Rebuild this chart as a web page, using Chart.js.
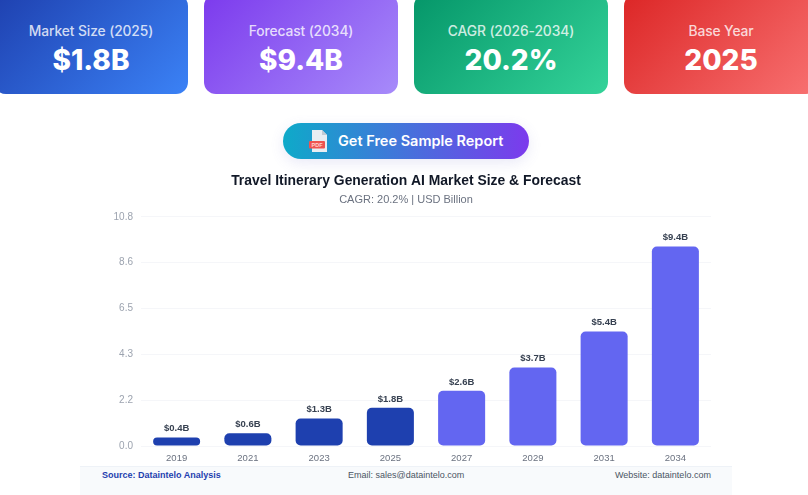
<!DOCTYPE html>
<html lang="en">
<head>
<meta charset="utf-8">
<title>Travel Itinerary Generation AI Market Size &amp; Forecast</title>
<script src="https://cdn.jsdelivr.net/npm/chart.js@4/dist/chart.umd.min.js"></script>
<style>
  html, body { margin: 0; padding: 0; background: #fff; overflow: hidden; }
  body { width: 808px; height: 495px; position: relative; font-family: "Liberation Sans", Arial, sans-serif; }
  .card { position: absolute; top: -6px; width: 194px; height: 100px; border-radius: 12px; color: #fff; text-align: center; font-family: Inter, "Open Sans", sans-serif; }
  .card .lab { position: absolute; left: 0; right: 0; top: 28px; font-size: 13.8px; font-weight: 500; line-height: 18px; letter-spacing: -0.1px; color: rgba(255,255,255,.8); }
  .card .val { position: absolute; left: 0; right: 0; top: 48px; font-size: 28px; font-weight: 800; line-height: 36px; }
  .c1 { left: -6px;  background: linear-gradient(135deg, #1e40af, #3b82f6); }
  .c2 { left: 204px; background: linear-gradient(135deg, #7c3aed, #a78bfa); }
  .c3 { left: 414px; background: linear-gradient(135deg, #059669, #34d399); }
  .c4 { left: 624px; background: linear-gradient(135deg, #dc2626, #f87171); }
  .btn { position: absolute; left: 283px; top: 123px; width: 246px; height: 36px; border-radius: 18px; background: linear-gradient(90deg, #0eaac9, #7c3aed); box-shadow: 0 4px 14px rgba(100,100,200,.14); color: #fff; font-family: Inter, "Open Sans", sans-serif; font-weight: 600; font-size: 14.5px; line-height: 36px; }
  .btn svg { position: absolute; left: 26px; top: 7px; }
  .btn span { position: absolute; left: 55px; white-space: nowrap; }
  .foot { position: absolute; left: 80px; top: 466px; width: 652px; height: 29px; background: #f8fafc; border-top: 1px solid #eef2f7; box-sizing: border-box; font-size: 9px; color: #4b5563; }
  .foot div { position: absolute; top: 2px; line-height: 12px; white-space: nowrap; }
  .foot .src { left: 22px; color: #1e40af; font-weight: 700; }
  .foot .mail { left: 268px; }
  .foot .web { left: 535px; }
  #wrap { position: absolute; left: 80px; top: 165px; width: 652px; height: 301px; }
</style>
</head>
<body>
<div class="card c1"><div class="lab" id="l0"></div><div class="val" id="v0"></div></div>
<div class="card c2"><div class="lab" id="l1"></div><div class="val" id="v1"></div></div>
<div class="card c3"><div class="lab" id="l2"></div><div class="val" id="v2"></div></div>
<div class="card c4"><div class="lab" id="l3"></div><div class="val" id="v3"></div></div>

<div class="btn">
  <svg width="20" height="22" viewBox="0 0 20 22">
    <path d="M3 0h10l5 5v17H3z" fill="#e9edf2"/>
    <path d="M13 0l5 5h-5z" fill="#c3cad3"/>
    <rect x="0" y="11" width="16" height="7.5" rx="1" fill="#ef5350"/>
    <text x="8" y="17" text-anchor="middle" font-family="Liberation Sans" font-size="5.5" font-weight="700" fill="#ffd5d0">PDF</text>
  </svg>
  <span>Get Free Sample Report</span>
</div>

<div id="wrap"><canvas id="chart"></canvas></div>

<div class="foot">
  <div class="src">Source: Dataintelo Analysis</div>
  <div class="mail">Email: sales@dataintelo.com</div>
  <div class="web">Website: dataintelo.com</div>
</div>

<script>
// Headline figures shown in the four cards
const cardLabels = ["Market Size (2025)", "Forecast (2034)", "CAGR (2026-2034)", "Base Year"];
const cardValues = ["$1.8B", "$9.4B", "20.2%", "2025"];

// Market size by year, USD billion
const years = ["2019", "2021", "2023", "2025", "2027", "2029", "2031", "2034"];
const marketSize = [0.4, 0.6, 1.3, 1.8, 2.6, 3.7, 5.4, 9.4];
const lastActualYear = "2025";

const yMax = 10.8;
const yStep = 2.16;

const actualColor = "#1e40af";
const forecastColor = "#6366f1";

cardLabels.forEach((t, i) => { document.getElementById("l" + i).textContent = t; });
cardValues.forEach((t, i) => { document.getElementById("v" + i).textContent = t; });

// Prints "$x.xB" above each bar
const valueLabels = {
  id: "valueLabels",
  afterDatasetsDraw(chart) {
    const { ctx } = chart;
    const meta = chart.getDatasetMeta(0);
    ctx.save();
    ctx.font = "bold 9.5px 'Liberation Sans', Arial, sans-serif";
    ctx.fillStyle = "#374151";
    ctx.textAlign = "center";
    ctx.textBaseline = "bottom";
    meta.data.forEach((bar, i) => {
      ctx.fillText("$" + marketSize[i].toFixed(1) + "B", bar.x, bar.y - 4);
    });
    ctx.restore();
  }
};

new Chart(document.getElementById("chart"), {
  type: "bar",
  data: {
    labels: years,
    datasets: [{
      data: marketSize,
      backgroundColor: years.map(y => Number(y) <= Number(lastActualYear) ? actualColor : forecastColor),
      borderRadius: 5,
      borderSkipped: false,
      categoryPercentage: 0.66,
      barPercentage: 1
    }]
  },
  plugins: [valueLabels],
  options: {
    responsive: true,
    maintainAspectRatio: false,
    animation: false,
    layout: { padding: { left: 21, right: 21, top: 0, bottom: 2 } },
    plugins: {
      legend: { display: false },
      tooltip: { enabled: false },
      title: {
        display: true,
        text: "Travel Itinerary Generation AI Market Size & Forecast",
        color: "#111827",
        font: { family: "'Liberation Sans', Arial, sans-serif", size: 13.9, weight: "bold" },
        padding: { top: 8, bottom: 4 }
      },
      subtitle: {
        display: true,
        text: "CAGR: 20.2% | USD Billion",
        color: "#6b7280",
        font: { family: "'Liberation Sans', Arial, sans-serif", size: 11 },
        padding: { bottom: 10 }
      }
    },
    scales: {
      x: {
        afterFit(axis) { axis.height = 18; },
        grid: { display: false, drawTicks: false, tickLength: 0 },
        border: { display: false },
        ticks: { color: "#6b7280", font: { family: "'Liberation Sans', Arial, sans-serif", size: 9.5 }, padding: 7, maxRotation: 0 }
      },
      y: {
        min: 0,
        max: yMax,
        afterFit(axis) { axis.width = 40; },
        afterBuildTicks(axis) {
          const ticks = [];
          for (let i = 0; i <= 5; i++) ticks.push({ value: yStep * i });
          axis.ticks = ticks;
        },
        grid: { color: "#f5f6f9", lineWidth: 1, drawTicks: false },
        border: { display: false },
        ticks: {
          color: "#9ca3af",
          font: { family: "'Liberation Sans', Arial, sans-serif", size: 10 },
          padding: 8,
          callback: v => Number(v).toFixed(1)
        }
      }
    }
  }
});
</script>
</body>
</html>
